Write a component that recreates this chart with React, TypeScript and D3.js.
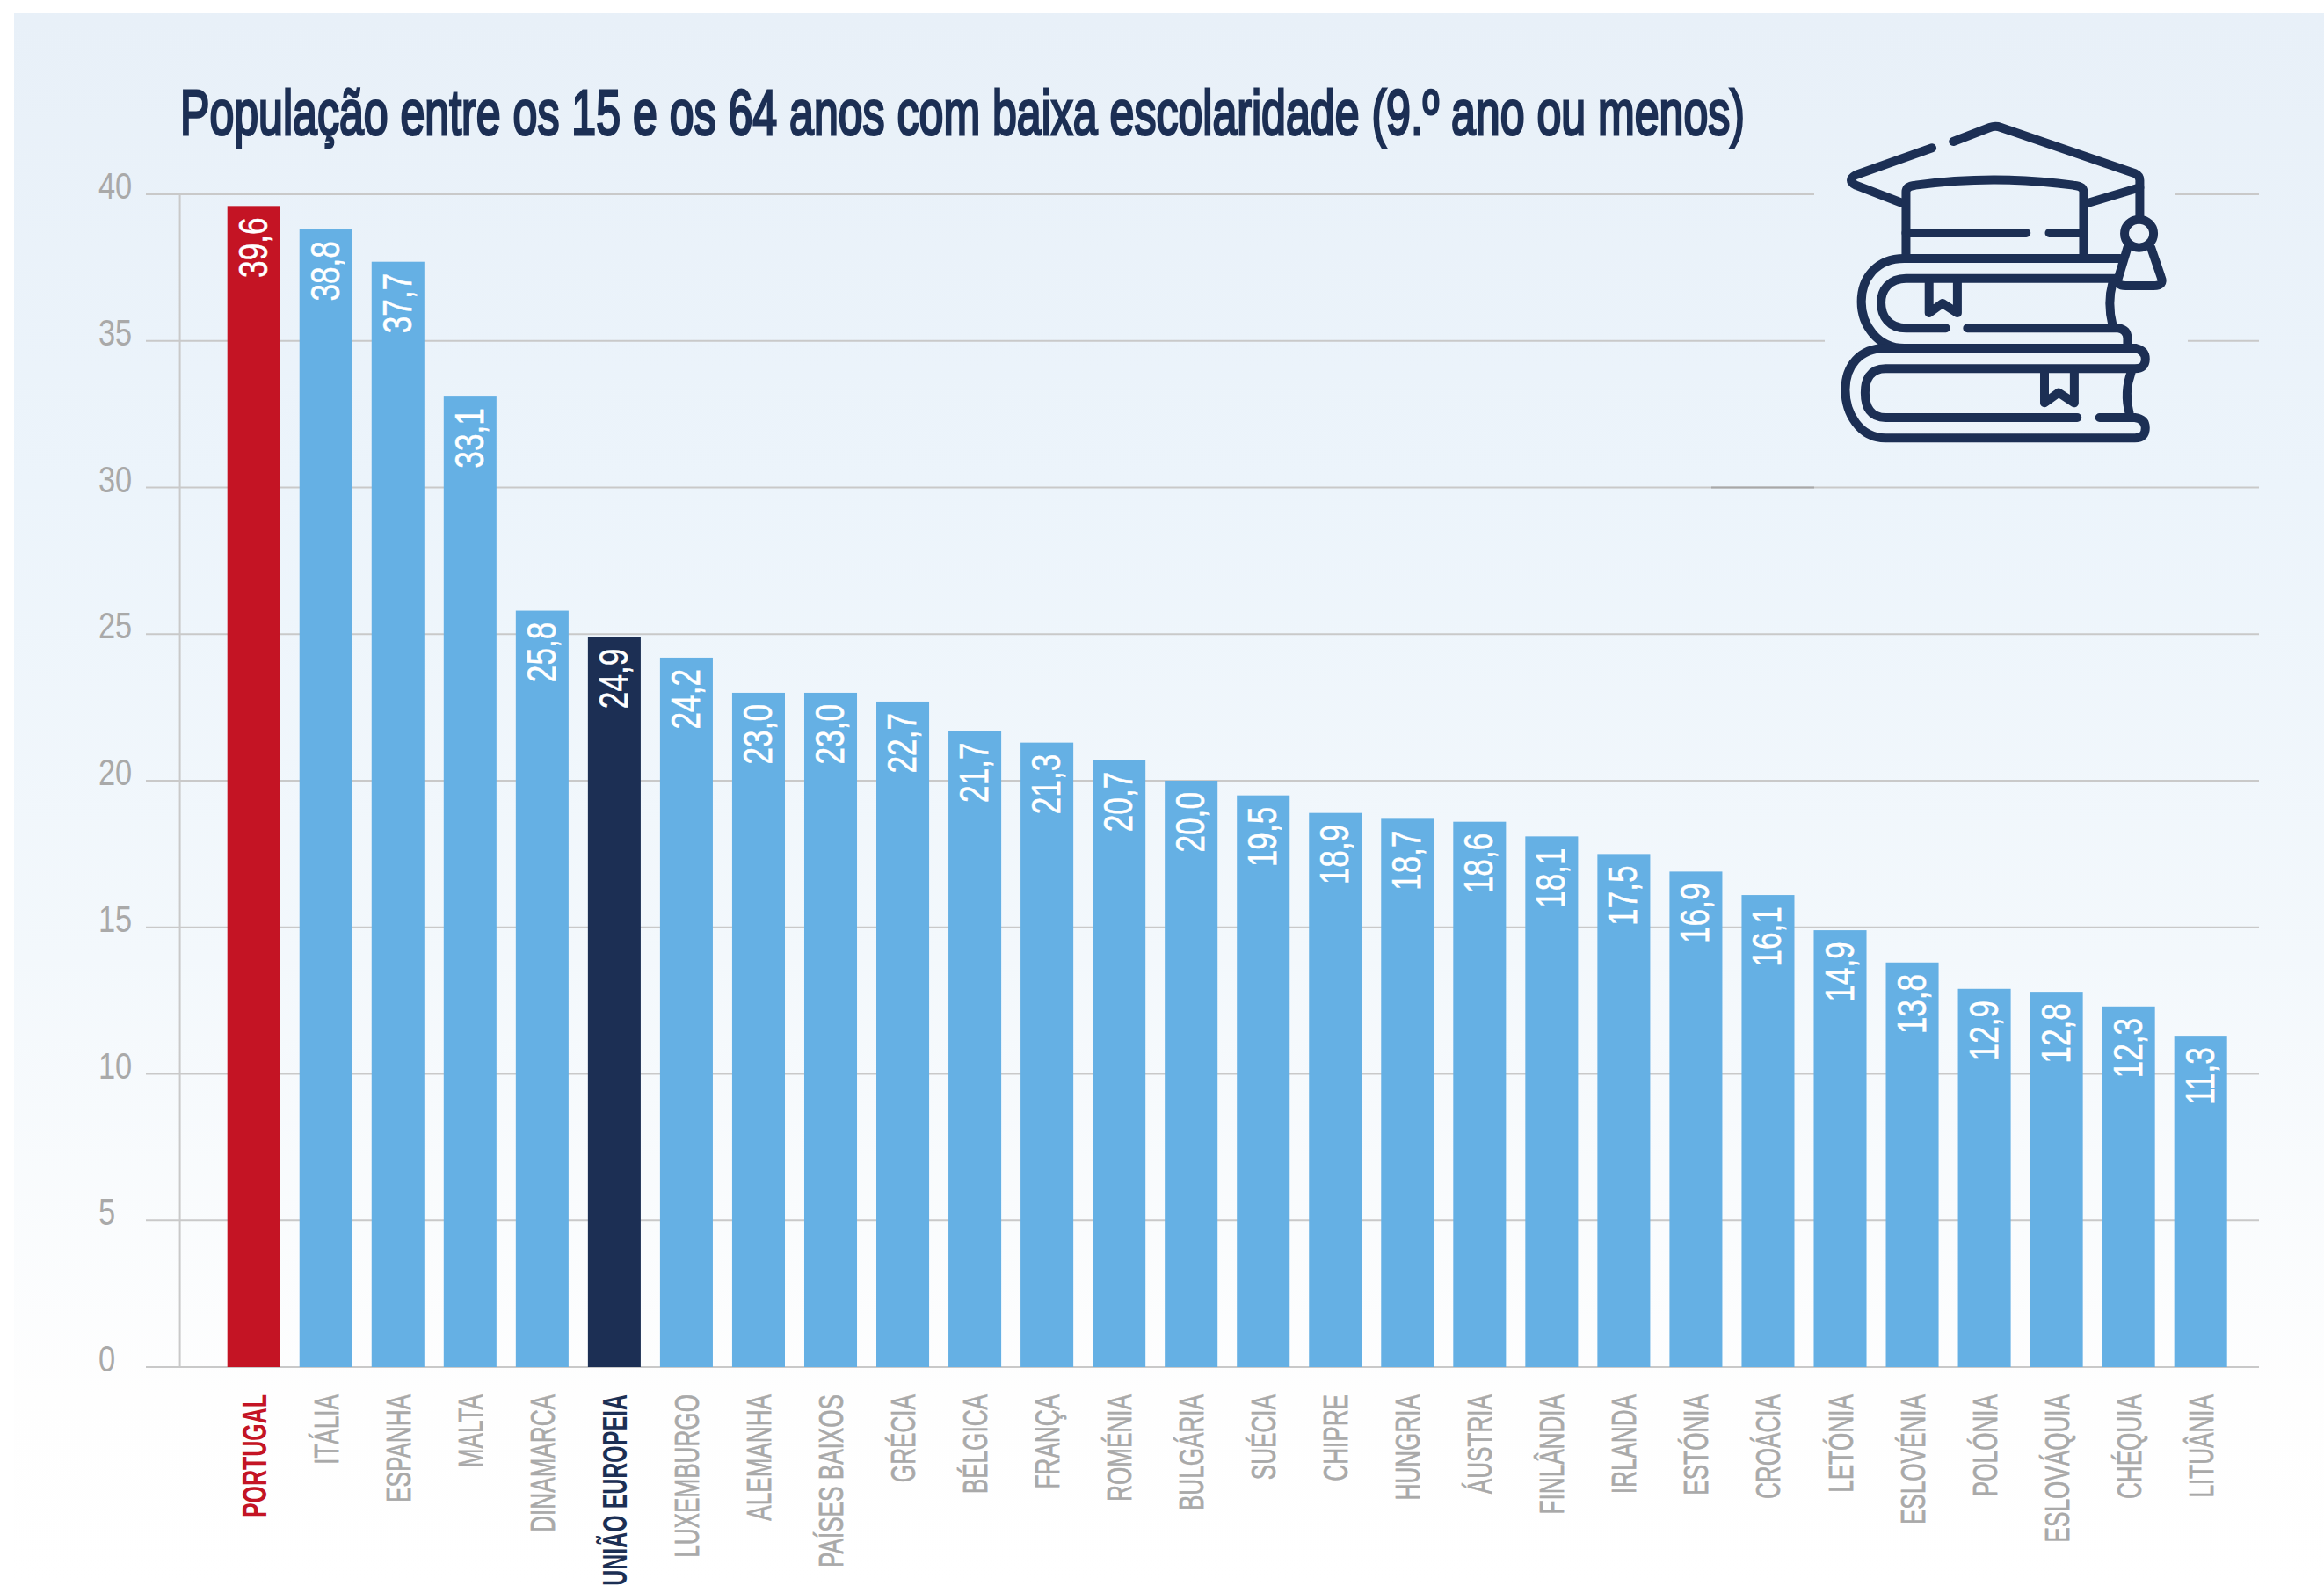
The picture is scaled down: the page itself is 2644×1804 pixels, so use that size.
import React from "react";
import * as d3 from "d3";

const categories = ["PORTUGAL","ITÁLIA","ESPANHA","MALTA","DINAMARCA","UNIÃO EUROPEIA","LUXEMBURGO","ALEMANHA","PAÍSES BAIXOS","GRÉCIA","BÉLGICA","FRANÇA","ROMÉNIA","BULGÁRIA","SUÉCIA","CHIPRE","HUNGRIA","ÁUSTRIA","FINLÂNDIA","IRLANDA","ESTÓNIA","CROÁCIA","LETÓNIA","ESLOVÉNIA","POLÓNIA","ESLOVÁQUIA","CHÉQUIA","LITUÂNIA"];
const values = [39.6,38.8,37.7,33.1,25.8,24.9,24.2,23.0,23.0,22.7,21.7,21.3,20.7,20.0,19.5,18.9,18.7,18.6,18.1,17.5,16.9,16.1,14.9,13.8,12.9,12.8,12.3,11.3];
const yTicks = [0,5,10,15,20,25,30,35,40];
const title = "População entre os 15 e os 64 anos com baixa escolaridade (9.º ano ou menos)";

const RED = "#c41424", BLUE = "#65b0e4", NAVY = "#1c2f54", GRAY = "#a9a9a9", GRID = "#c9c9c9";
const FONT = "'Liberation Sans',sans-serif";

const y = d3.scaleLinear().domain([0, 40]).range([1555, 221]);
const x = d3.scaleBand<string>().domain(categories).range([247.7, 2544.7]).paddingInner(0.268).paddingOuter(0.134);

const fill = (c: string) => (c === "PORTUGAL" ? RED : c === "UNIÃO EUROPEIA" ? NAVY : BLUE);
const labelFill = (c: string) => (c === "PORTUGAL" ? RED : c === "UNIÃO EUROPEIA" ? NAVY : GRAY);
const bold = (c: string) => c === "PORTUGAL" || c === "UNIÃO EUROPEIA";

function gridSegments(t: number): [number, number][] {
  if (t === 40) return [[166, 2064], [2474, 2570]];
  if (t === 35) return [[166, 2076], [2489, 2570]];
  return [[166, 2570]];
}

function Icon() {
  const paths = [
    "M515,205 L310,297 Q285,315 310,332 L435,393",
    "M572,183 L670,135 Q685,128 700,135 L1060,292 Q1073,300 1073,315 L1073,440",
    "M1073,340 L933,393",
    "M445,580 L445,355 Q445,335 470,332 Q680,295 895,332 Q922,335 922,355 L922,580",
    "M445,495 L768,495", "M830,495 L922,495",
    "M1040,545 L1015,650 Q1010,675 1035,675 L1110,675 Q1140,675 1130,645 L1103,545",
    "M1020,582 L440,582 C365,582 325,650 325,730 C325,810 370,888 440,888 L1040,888",
    "M1005,650 L445,650 C400,650 378,690 378,733 C378,780 400,820 445,820 L552,820",
    "M610,820 L1015,820 Q1040,825 1040,855 L1040,888",
    "M1000,665 Q985,735 1000,810",
    "M507,660 L507,768 L543,735 L583,768 L583,660",
    "M1060,888 Q1088,895 1088,925 Q1088,958 1060,958 L390,958 C345,958 335,1000 335,1040 C335,1090 350,1125 390,1125 L905,1125",
    "M965,1125 L1060,1125 Q1088,1130 1088,1160 Q1088,1195 1060,1195 L390,1195 C320,1195 282,1110 282,1030 C282,950 320,888 390,888 L1060,888",
    "M1050,970 Q1030,1040 1045,1110",
    "M817,965 L817,1075 L855,1040 L897,1075 L897,965",
  ];
  return (
    <g transform="translate(1980,100) scale(0.4235,0.3333)" fill="none" stroke={NAVY} strokeLinecap="round" strokeLinejoin="round">
      {paths.map((d, i) => <path key={i} d={d} strokeWidth={10} vectorEffect="non-scaling-stroke" />)}
      <ellipse cx={1071} cy={497} rx={39} ry={48} strokeWidth={10} vectorEffect="non-scaling-stroke" />
    </g>
  );
}

export default function App() {
  return (
    <svg width={2644} height={1804} viewBox="0 0 2644 1804" style={{ position: "absolute", left: 0, top: 0, display: "block" }}>
      <defs>
        <linearGradient id="bg" x1="0" y1="0" x2="0" y2="1">
          <stop offset="0" stopColor="#e8f0f8" />
          <stop offset="0.3" stopColor="#ecf4fb" />
          <stop offset="0.6" stopColor="#f3f8fc" />
          <stop offset="0.88" stopColor="#fefefe" />
          <stop offset="1" stopColor="#ffffff" />
        </linearGradient>
      </defs>
      <rect x={0} y={0} width={2644} height={1804} fill="#ffffff" />
      <rect x={16} y={15} width={2628} height={1789} fill="url(#bg)" />

      <text transform="translate(205,153) scale(0.68,1)" fontFamily={FONT} fontWeight={400} fontSize={72} fill={NAVY} stroke={NAVY} strokeWidth={3} textLength={1780 / 0.68} lengthAdjust="spacingAndGlyphs">{title}</text>

      {yTicks.map((t) => (
        <g key={t}>
          {gridSegments(t).map(([a, b], i) => (
            <line key={i} x1={a} x2={b} y1={y(t)} y2={y(t)} stroke={GRID} strokeWidth={2} />
          ))}
          <text transform={`translate(112,${y(t) + 5}) scale(0.8,1)`} fontFamily={FONT} fontSize={43} fill={GRAY}>{t}</text>
        </g>
      ))}
      <line x1={1947} x2={2064} y1={y(30)} y2={y(30)} stroke="#a8a8a8" strokeWidth={2} />
      <line x1={204.6} x2={204.6} y1={y(40)} y2={y(0)} stroke={GRID} strokeWidth={2} />

      {categories.map((c, i) => {
        const bx = x(c) as number;
        const cx = bx + x.bandwidth() / 2;
        return (
          <g key={c}>
            <rect x={bx} y={y(values[i])} width={x.bandwidth()} height={y(0) - y(values[i])} fill={fill(c)} />
            <text transform={`translate(${cx + 15},${y(values[i]) + 13}) rotate(-90) scale(0.75,1)`} textAnchor="end" fontFamily={FONT} fontSize={47} fill="#ffffff" stroke="#ffffff" strokeWidth={0.5}>
              {values[i].toFixed(1).replace(".", ",")}
            </text>
            <text transform={`translate(${cx + 14},1586) rotate(-90) scale(${bold(c) ? 0.64 : 0.67},1)`} textAnchor="end" fontFamily={FONT} fontWeight={bold(c) ? 700 : 400} fontSize={39} fill={labelFill(c)} stroke={bold(c) ? "none" : GRAY} strokeWidth={0.7}>
              {c}
            </text>
          </g>
        );
      })}

      <Icon />
    </svg>
  );
}
